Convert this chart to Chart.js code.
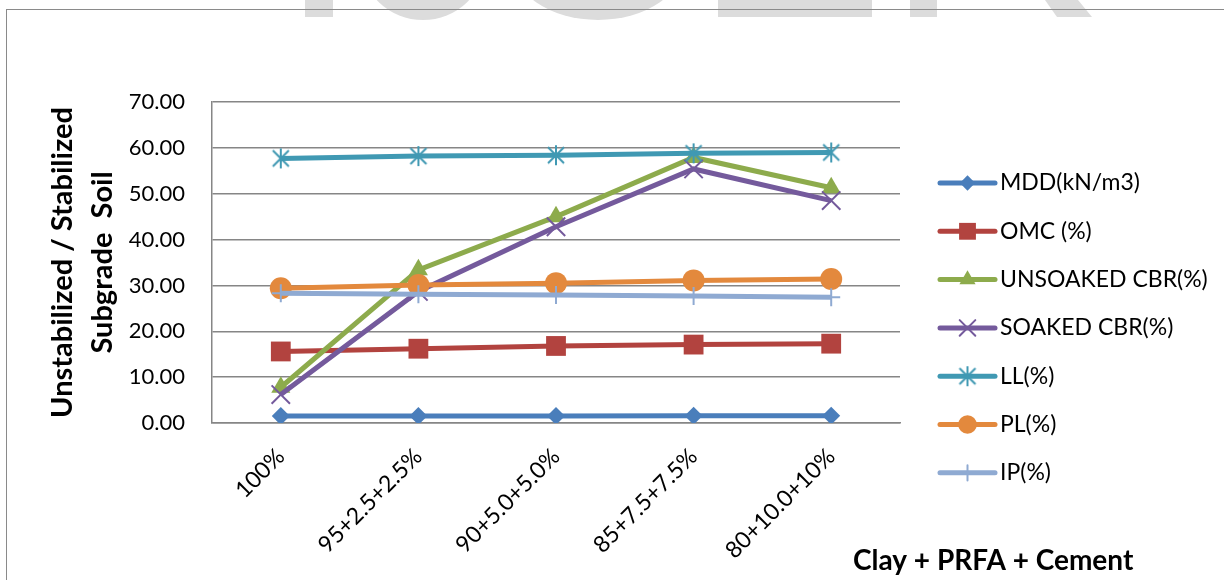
<!DOCTYPE html>
<html>
<head>
<meta charset="utf-8">
<title>Clay + PRFA + Cement</title>
<script src="https://cdn.jsdelivr.net/npm/chart.js@4.4.1/dist/chart.umd.min.js"></script>
<style>
  html, body { margin: 0; padding: 0; background: #fff; }
  #wrap { position: relative; width: 1224px; height: 580px; overflow: hidden; }
  #mark { position: absolute; left: 0; top: 0; }
  #frame { position: absolute; left: 6px; top: 9px; width: 1260px; height: 640px;
           border: 1.5px solid #8a8a8a; box-sizing: border-box; }
  #chart { position: absolute; left: 0; top: 0; }
</style>
</head>
<body>
<div id="wrap">
  <svg id="mark" width="1224" height="30">
    <g fill="#dcdcdc">
      <rect x="305" y="0" width="28" height="17"/>
      <ellipse cx="423" cy="-40" rx="62" ry="60"/>
      <ellipse cx="598" cy="-40" rx="87" ry="60"/>
      <rect x="718" y="0" width="154" height="17"/>
      <rect x="910" y="0" width="27" height="17"/>
      <path d="M1045 0 L1078 0 L1092 17 L1057 17 Z"/>
    </g>
  </svg>
  <div id="frame"></div>
  <canvas id="chart" width="1224" height="580"></canvas>
</div>
<script>
const categories = ['100%', '95+2.5+2.5%', '90+5.0+5.0%', '85+7.5+7.5%', '80+10.0+10%'];

const mdd = [1.50, 1.55, 1.55, 1.58, 1.60];
const omc = [15.6, 16.2, 16.8, 17.1, 17.3];
const unsoakedCbr = [7.8, 33.4, 45.0, 57.9, 51.3];
const soakedCbr = [6.2, 28.7, 42.8, 55.4, 48.5];
const ll = [57.7, 58.2, 58.4, 58.8, 59.0];
const pl = [29.4, 30.1, 30.5, 31.1, 31.4];
const ip = [28.3, 28.1, 27.9, 27.7, 27.4];

const yMin = 0;
const yMax = 70;
const yStep = 10;

const FONT = 'Lato, "Open Sans", sans-serif';

// Excel-style asterisk marker: an X with a vertical stroke
function asteriskMarker(color, size) {
  const c = document.createElement('canvas');
  c.width = size; c.height = size;
  const g = c.getContext('2d');
  const m = size / 2, r = size / 2 - 1;
  g.strokeStyle = color;
  g.lineWidth = 2;
  g.beginPath();
  g.moveTo(m, m - r); g.lineTo(m, m + r);
  g.moveTo(m - r * 0.8, m - r * 0.8); g.lineTo(m + r * 0.8, m + r * 0.8);
  g.moveTo(m + r * 0.8, m - r * 0.8); g.lineTo(m - r * 0.8, m + r * 0.8);
  g.stroke();
  return c;
}

function series(label, data, color, pointStyle, radius, hollow) {
  return {
    label,
    data,
    borderColor: color,
    backgroundColor: color,
    borderWidth: 5,
    tension: 0,
    pointStyle,
    pointRadius: radius,
    pointHoverRadius: radius,
    pointBackgroundColor: color,
    pointBorderColor: color,
    pointBorderWidth: hollow ? 2 : 0
  };
}

const datasets = [
  series('MDD(kN/m3)', mdd, '#4a7ebb', 'rectRot', 9, false),
  series('OMC (%)', omc, '#b2433f', 'rect', 14, false),
  series('UNSOAKED CBR(%)', unsoakedCbr, '#8dab4c', 'triangle', 11, false),
  series('SOAKED CBR(%)', soakedCbr, '#745a9c', 'crossRot', 13, true),
  series('LL(%)', ll, '#4099b3', asteriskMarker('#4099b3', 22), 11, true),
  series('PL(%)', pl, '#e3893d', 'circle', 11, false),
  series('IP(%)', ip, '#8faad2', 'cross', 9, true)
];
// later series sit on top of earlier ones
datasets.forEach((d, i) => { d.order = datasets.length - i; });

const sideLegend = {
  id: 'sideLegend',
  afterDraw(chart, args, opts) {
    const { ctx } = chart;
    const x0 = chart.chartArea.right + opts.gap;
    chart.data.datasets.forEach((ds, i) => {
      const y = opts.top + i * opts.spacing;
      ctx.save();
      ctx.strokeStyle = ds.borderColor;
      ctx.lineWidth = 5;
      ctx.lineCap = 'round';
      ctx.beginPath();
      ctx.moveTo(x0, y);
      ctx.lineTo(x0 + opts.lineLength, y);
      ctx.stroke();
      ctx.fillStyle = ds.pointBackgroundColor;
      ctx.strokeStyle = ds.pointBorderColor;
      ctx.lineWidth = ds.pointBorderWidth;
      Chart.helpers.drawPoint(ctx, {
        pointStyle: ds.pointStyle,
        radius: ds.pointRadius * 0.85,
        rotation: 0,
        borderWidth: ds.pointBorderWidth
      }, x0 + opts.lineLength / 2, y);
      ctx.fillStyle = '#000';
      ctx.font = `${opts.fontSize}px ${FONT}`;
      ctx.textAlign = 'left';
      ctx.textBaseline = 'middle';
      ctx.fillText(ds.label, x0 + opts.lineLength + 5, y);
      ctx.restore();
    });
  }
};

const xTitle = {
  id: 'xTitle',
  afterDraw(chart, args, opts) {
    const { ctx } = chart;
    ctx.save();
    ctx.fillStyle = '#000';
    ctx.font = `bold ${opts.fontSize}px ${FONT}`;
    ctx.textAlign = 'left';
    ctx.textBaseline = 'alphabetic';
    ctx.fillText(opts.text, chart.chartArea.right + opts.dx, opts.y);
    ctx.restore();
  }
};

new Chart(document.getElementById('chart'), {
  type: 'line',
  data: { labels: categories, datasets },
  plugins: [sideLegend, xTitle],
  options: {
    responsive: false,
    animation: false,
    events: [],
    layout: { padding: { top: 102, right: 324, bottom: 0, left: 0 } },
    plugins: {
      legend: { display: false },
      tooltip: { enabled: false },
      sideLegend: { top: 183, spacing: 48.3, gap: 40, lineLength: 55, fontSize: 23 },
      xTitle: { text: 'Clay + PRFA + Cement', fontSize: 28, dx: -47, y: 570 }
    },
    scales: {
      x: {
        offset: true,
        grid: { display: false, drawTicks: false },
        border: { color: '#868686', width: 1.5 },
        ticks: {
          color: '#000',
          font: { family: FONT, size: 23 },
          minRotation: 45,
          maxRotation: 45,
          padding: 20
        },
        afterFit(scale) { scale.height = 157; }
      },
      y: {
        min: yMin,
        max: yMax,
        grid: { color: '#868686', lineWidth: 1.5, drawTicks: false },
        border: { color: '#868686', width: 1.5 },
        ticks: {
          stepSize: yStep,
          color: '#000',
          font: { family: FONT, size: 22 },
          padding: 27,
          callback: v => v.toFixed(2)
        },
        title: {
          display: true,
          text: ['Unstabilized / Stabilized', 'Subgrade  Soil'],
          color: '#000',
          font: { family: FONT, size: 29, weight: 'bold', lineHeight: 1.38 },
          padding: { top: 43, bottom: 0 }
        },
        afterFit(scale) { scale.width = 212; }
      }
    }
  }
});
</script>
</body>
</html>
